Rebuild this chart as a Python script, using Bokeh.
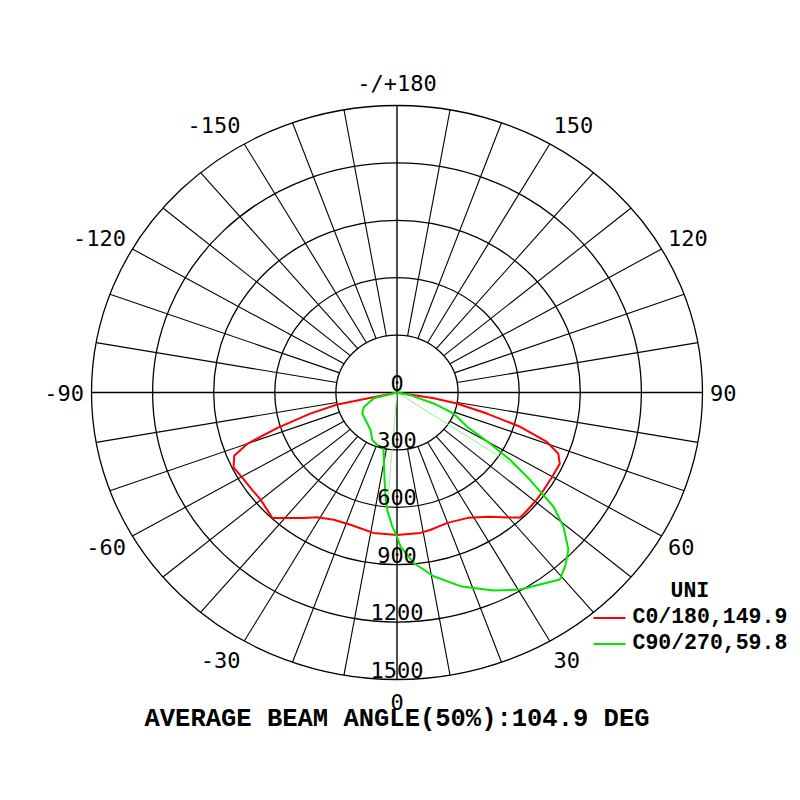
import numpy as np
from bokeh.plotting import figure
from bokeh.models import Range1d
from bokeh.core.properties import value
from bokeh.embed import file_html
from bokeh.resources import INLINE

# ---------------- data ----------------
ring_values = [300, 600, 900, 1200, 1500]
ring_labels = ["0", "300", "600", "900", "1200", "1500"]
ring_label_values = [0, 300, 600, 900, 1200, 1500]
angle_ticks = [0, 30, 60, 90, 120, 150, 180, -150, -120, -90, -60, -30]
angle_tick_labels = ["0", "30", "60", "90", "120", "150", "-/+180",
                     "-150", "-120", "-90", "-60", "-30"]
spoke_step = 10

c0_angles = [-90, -78, -75.5, -72.5, -70, -67.5, -64, -59, -54, -50, -46, -43,
             -38.5, -35, -31, -25, -18, -9, 0, 9, 13, 20, 28, 35, 40, 42.8,
             46, 50, 55, 60, 65, 68, 70.7, 73.5, 76, 79, 80.5, 90]
c0_values = [0, 300, 440, 615, 780, 865, 893, 879, 874, 873, 885, 897,
             838, 800, 760, 734, 728, 743, 745, 743, 736, 725, 742, 793, 852, 890,
             888, 886, 882, 880, 882, 854, 780, 631, 455, 300, 183, 0]

c90_angles = [-90, -75, -65, -57.5, -47, -33.5, -26, -19.5, -13, -11, -7.6, -5.9,
              -4.5, -1.9, 0, 1.2, 5.3, 10.6, 17.1, 24.6, 30.4, 35, 39.3, 42.3,
              45.7, 49.4, 52.2, 55, 57.6, 59.7, 62.5, 66.7, 68.9, 72.4, 78, 90]
c90_values = [0, 118, 179, 203, 211, 235, 276, 291, 297, 341, 461, 547,
              615, 700, 752, 804, 895, 977, 1059, 1138, 1194, 1225, 1263, 1227,
              1176, 1076, 972, 798, 659, 530, 388, 321, 281, 189, 67, 0]

c90_ref_angles = [56.4, -4.6]

legend_title = "UNI"
legend_labels = ["C0/180,149.9", "C90/270,59.8"]
legend_colors = ["#ff0000", "#00e600"]
title_text = "AVERAGE BEAM ANGLE(50%):104.9 DEG"

# ---------------- layout ----------------
W, H = 792, 784
CX, CY = 396.5, 392.0      # centre in pixels
RX, RY = 305.5, 287.0      # outer ring radius in pixels (x, y)
RMAX = ring_values[-1]
kx, ky = RX / RMAX, RY / RMAX


def px(xp):   # pixel -> data x
    return (xp - CX) / kx


def py(yp):   # pixel -> data y
    return (CY - yp) / ky


def pol(theta_deg, r):
    t = np.radians(np.asarray(theta_deg, dtype=float))
    r = np.asarray(r, dtype=float)
    return r * np.sin(t), -r * np.cos(t)


p = figure(width=W, height=H, output_backend="svg", toolbar_location=None,
           x_range=Range1d(-CX / kx, (W - CX) / kx),
           y_range=Range1d(-(H - CY) / ky, CY / ky),
           x_axis_type=None, y_axis_type=None, min_border=0)
p.grid.visible = False
p.outline_line_color = None
p.background_fill_color = "white"

# rings
for rv in ring_values:
    p.ellipse(x=0, y=0, width=2 * rv, height=2 * rv, fill_color=None,
              line_color="black", line_width=1.3)

# spokes
sp = [a for a in range(-180, 180, spoke_step) if a % 90 != 0]
x0, y0 = pol(sp, [ring_values[0]] * len(sp))
x1, y1 = pol(sp, [RMAX] * len(sp))
p.segment(x0=x0, y0=y0, x1=x1, y1=y1, line_color="black", line_width=1.1)
# main axes
p.segment(x0=[-RMAX, 0], y0=[0, -RMAX], x1=[RMAX, 0], y1=[0, RMAX],
          line_color="black", line_width=1.4)

# thin reference lines (light green)
rr = np.interp(c90_ref_angles, c90_angles, c90_values)
rx_, ry_ = pol(c90_ref_angles, rr)
p.segment(x0=[0, 0], y0=[0, 0], x1=rx_, y1=ry_, line_color="#8cf58c", line_width=1)

# curves
xr, yr = pol(c0_angles, c0_values)
p.line(xr, yr, line_color=legend_colors[0], line_width=2)
xg, yg = pol(c90_angles, c90_values)
p.line(xg, yg, line_color=legend_colors[1], line_width=2)

# ring labels
lab_font = value("DejaVu Sans Mono")
p.text(x=[0] * len(ring_labels),
       y=[-v + 10 / ky for v in ring_label_values],
       text=ring_labels, text_font=lab_font, text_font_size="22px",
       text_align="center", text_baseline="middle", text_color="black")

# angle labels
LRX, LRY = 313 / kx, 309 / ky
groups = {"left": ([], [], []), "right": ([], [], []), "center": ([], [], [])}
for a, t in zip(angle_ticks, angle_tick_labels):
    s = np.sin(np.radians(a))
    c = np.cos(np.radians(a))
    al = "left" if s > 0.01 else ("right" if s < -0.01 else "center")
    g = groups[al]
    g[0].append(LRX * s)
    g[1].append(-LRY * c)
    g[2].append(t)
for al, (gx, gy, gt) in groups.items():
    p.text(x=gx, y=gy, text=gt, text_font=lab_font, text_font_size="22px",
           text_align=al, text_baseline="middle", text_color="black")

# legend (manual)
leg_font = value("Liberation Mono")
p.text(x=[px(670)], y=[py(590)], text=[legend_title], text_font=leg_font,
       text_font_size="21.5px", text_font_style="bold", text_align="left",
       text_baseline="middle", text_color="black")
for i, (lab, col) in enumerate(zip(legend_labels, legend_colors)):
    ly = 617.5 + i * 26
    p.segment(x0=[px(593)], y0=[py(ly)], x1=[px(625)], y1=[py(ly)],
              line_color=col, line_width=2)
    p.text(x=[px(632)], y=[py(ly - 1.5)], text=[lab], text_font=leg_font,
           text_font_size="21.5px", text_font_style="bold", text_align="left",
           text_baseline="middle", text_color="black")

# bottom title
p.text(x=[px(396.5)], y=[py(719)], text=[title_text], text_font=leg_font,
       text_font_size="25.5px", text_font_style="bold", text_align="center",
       text_baseline="middle", text_color="black")

open("out.html", "w").write(file_html(p, INLINE))
